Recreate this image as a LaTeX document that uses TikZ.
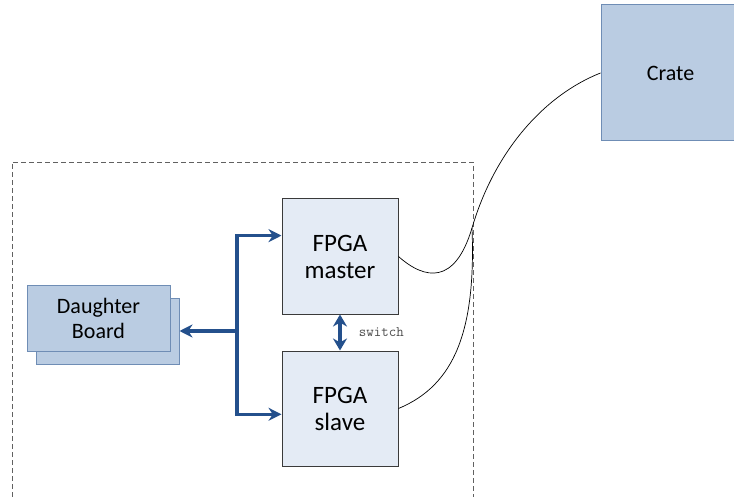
\documentclass[tikz,border=0pt]{standalone}
\usepackage{fontspec}
\setmainfont{Carlito}
\usetikzlibrary{arrows.meta, positioning, calc}
\definecolor{cbus}{HTML}{24508C}
\definecolor{cpale}{HTML}{E4EBF5}
\definecolor{cmid}{HTML}{BACCE2}
\definecolor{cedge}{HTML}{6F8DB5}
\definecolor{cdark}{HTML}{3A3A3A}
\tikzset{
  every picture/.style={line width=0.8pt},
  fpga/.style={draw=cdark, fill=cpale, line width=1pt, align=center, minimum width=116pt, minimum height=115pt, font=\fontsize{25}{27}\selectfont},
  board/.style={draw=cedge, fill=cmid, line width=1pt, align=center, minimum width=143pt, minimum height=65pt, font=\fontsize{22}{25}\selectfont},
  bus/.style={-{Stealth[length=13pt, width=13pt]}, draw=cbus, line width=3.2pt},
  wire/.style={draw=black, line width=0.7pt},
  note/.style={font=\ttfamily\fontsize{14.5}{16}\selectfont, text=black!70},
}

\begin{document}
\begin{tikzpicture}[x=1pt, y=-1pt]
  \useasboundingbox (0,0) rectangle (734,497);
  % dashed frame (bottom edge runs off the picture)
  \draw[cdark!80, dashed, line width=0.7pt, dash pattern=on 5pt off 3pt] (12,497) -- (12,162) -- (473,162) -- (473,497);
  % boxes
  \node[board] (db2) at (107.5,331.5) {};
  \node[board] (db) at (98.5,318.5) {Daughter\\Board};
  \node[fpga] (master) at (340,256.5) {FPGA\\master};
  \node[fpga] (slave) at (340,408.5) {FPGA\\slave};
  \node[board, minimum width=139pt, minimum height=136pt] (crate) at (670.5,73) {Crate};
  % bus
  \coordinate (fork) at (237,331);
  \coordinate (mA) at ($(master.north west)!0.32!(master.south west)$);
  \coordinate (sA) at ($(slave.north west)!0.55!(slave.south west)$);
  \draw[bus] (fork) -- (db2.east |- fork);
  \draw[bus] (fork) |- (mA);
  \draw[bus] (fork) |- (sA);
  \draw[bus, {Stealth[length=12pt, width=14pt]}-{Stealth[length=12pt, width=14pt]}] (master.south) -- (slave.north)
    node[note, midway, right=14pt] (sw) {switch};
  % cables to the crate
  \coordinate (join) at (472,228);
  \draw[wire] (master.east) .. controls (425,280) and (455,285) .. (join)
    .. controls (495,150) and (545,95) .. (crate.west);
  \draw[wire] (slave.east) .. controls (455,385) and (476,330) .. (join);
\end{tikzpicture}
\end{document}
